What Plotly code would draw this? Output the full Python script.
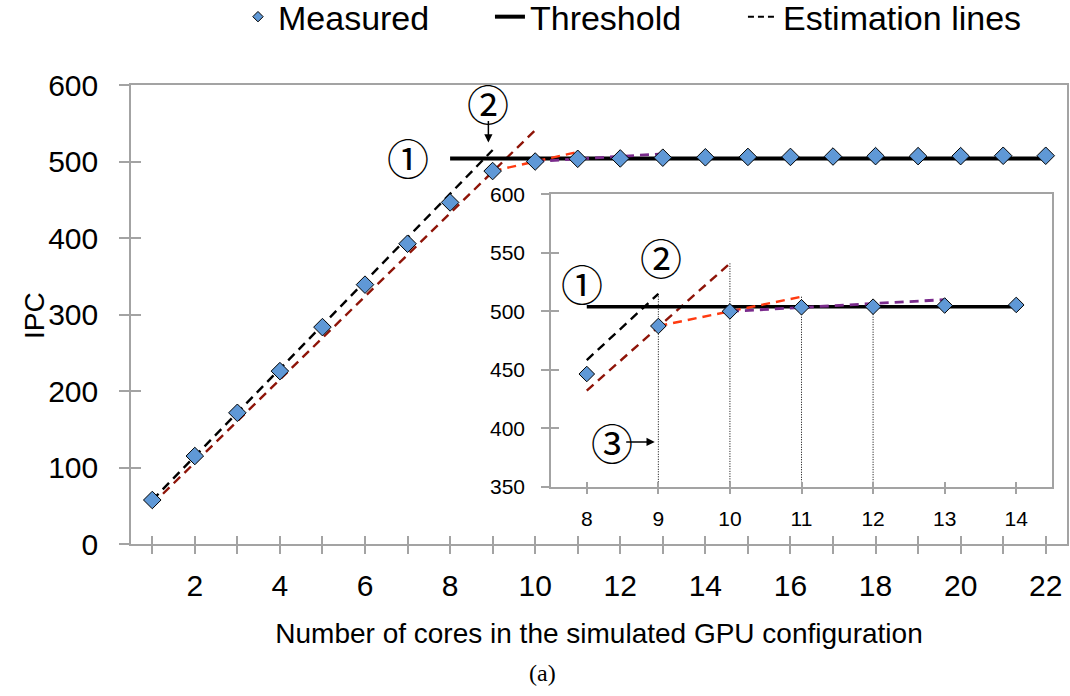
import plotly.graph_objects as go

# ---- data -------------------------------------------------------------
cores = list(range(1, 23))
ipc_measured = [57.5, 115, 171.5, 226, 283.5, 339, 392.5, 446.5, 487.5, 500,
                503.5, 504, 505, 505.5, 506, 506, 506.5, 507, 507, 507, 507.5, 507.5]
x_labels = [str(c) if c % 2 == 0 else "" for c in cores]

threshold_ipc = 504
threshold_cores_main = [8, 22]
threshold_cores_inset = [8, 14]

# estimation lines (main chart)
est_linear_x, est_linear_y = [1, 9], [57.3, 515]
est_fit_x, est_fit_y = [1, 10], [52, 541]
est_step2_x, est_step2_y = [9, 11], [487.5, 512.5]
est_step3_x, est_step3_y = [10, 13], [500, 510]

# estimation lines as drawn inside the zoomed view
inset_linear_x, inset_linear_y = [8, 9], [458.4, 515]
inset_fit_x, inset_fit_y = [8, 10], [432.3, 541]

inset_cores = list(range(8, 15))
inset_labels = [str(c) for c in inset_cores]

# drop lines marking where each estimate ends
drop_x = [9, 10, 11, 12]
drop_top = [est_linear_y[1], est_fit_y[1], est_step2_y[1], ipc_measured[11]]
inset_floor = 350

# ---- styling ----------------------------------------------------------
FONT = "Liberation Sans, Arial, sans-serif"
CIRC_FONT = "Noto Sans CJK JP, DejaVu Sans, sans-serif"
AXIS_GREY = "#A3A3A3"
DIAMOND_FILL = "#5F98D6"
DARK_RED = "#8E1408"
ORANGE_RED = "#FF3A10"
PURPLE = "#7A2B8C"
DASH = "9px,6px"

fig = go.Figure()


def marker_trace(x, y, xa, ya, size):
    return go.Scatter(
        x=x, y=y, xaxis=xa, yaxis=ya, mode="markers", showlegend=False,
        marker=dict(symbol="diamond", size=size, color=DIAMOND_FILL,
                    line=dict(color="black", width=1)),
        hoverinfo="x+y")


def dashed(x, y, xa, ya, color, width=2.4):
    return go.Scatter(x=x, y=y, xaxis=xa, yaxis=ya, mode="lines", showlegend=False,
                      line=dict(color=color, width=width, dash=DASH), hoverinfo="skip")


# main chart
fig.add_trace(dashed(est_linear_x, est_linear_y, "x", "y", "black"))
fig.add_trace(dashed(est_fit_x, est_fit_y, "x", "y", DARK_RED))
fig.add_trace(go.Scatter(x=threshold_cores_main, y=[threshold_ipc] * 2, xaxis="x", yaxis="y",
                         mode="lines", showlegend=False,
                         line=dict(color="black", width=4), hoverinfo="skip"))
fig.add_trace(dashed(est_step2_x, est_step2_y, "x", "y", ORANGE_RED))
fig.add_trace(dashed(est_step3_x, est_step3_y, "x", "y", PURPLE, 2.8))
fig.add_trace(marker_trace(cores, ipc_measured, "x", "y", 13.5))

# zoomed view
for xv, top in zip(drop_x, drop_top):
    fig.add_trace(go.Scatter(x=[xv, xv], y=[top, inset_floor], xaxis="x2", yaxis="y2",
                             mode="lines", showlegend=False, hoverinfo="skip",
                             line=dict(color="black", width=1, dash="1px,1.5px")))
fig.add_trace(dashed(inset_linear_x, inset_linear_y, "x2", "y2", "black"))
fig.add_trace(dashed(inset_fit_x, inset_fit_y, "x2", "y2", DARK_RED))
fig.add_trace(go.Scatter(x=threshold_cores_inset, y=[threshold_ipc] * 2, xaxis="x2", yaxis="y2",
                         mode="lines", showlegend=False,
                         line=dict(color="black", width=3.5), hoverinfo="skip"))
fig.add_trace(dashed(est_step2_x, est_step2_y, "x2", "y2", ORANGE_RED))
fig.add_trace(dashed(est_step3_x, est_step3_y, "x2", "y2", PURPLE, 2.8))
i0 = cores.index(inset_cores[0])
fig.add_trace(marker_trace(inset_cores, ipc_measured[i0:i0 + len(inset_cores)], "x2", "y2", 12))

# legend entries, each in its own legend box so they can be spaced freely
fig.add_trace(go.Scatter(x=[None], y=[None], mode="markers", name="Measured", legend="legend",
                         marker=dict(symbol="diamond", size=8, color=DIAMOND_FILL,
                                     line=dict(color="black", width=1))))
fig.add_trace(go.Scatter(x=[None], y=[None], mode="lines", name="Threshold", legend="legend2",
                         line=dict(color="black", width=4)))
fig.add_trace(go.Scatter(x=[None], y=[None], mode="lines", name="Estimation lines",
                         legend="legend3", line=dict(color="black", width=2, dash="6px,4px")))

# companion axes that carry the inner half of each crossing tick
fig.add_trace(go.Scatter(x=[cores[0]], y=[0], xaxis="x3", yaxis="y3", mode="markers",
                         marker=dict(opacity=0), showlegend=False, hoverinfo="skip"))
fig.add_trace(go.Scatter(x=[inset_cores[0]], y=[inset_floor], xaxis="x4", yaxis="y4",
                         mode="markers", marker=dict(opacity=0), showlegend=False,
                         hoverinfo="skip"))

main_yticks = list(range(0, 601, 100))
inset_yticks = list(range(350, 601, 50))

axis_common = dict(showgrid=False, zeroline=False, linecolor=AXIS_GREY, linewidth=1.5,
                   tickcolor=AXIS_GREY, tickwidth=1.5)


def legend_box(x_left):
    return dict(orientation="h", x=x_left, xanchor="left", y=1.148, yanchor="middle",
                font=dict(size=34, family=FONT), bgcolor="rgba(0,0,0,0)", itemwidth=30)


fig.update_layout(
    width=1070, height=696,
    margin=dict(l=131, r=3, t=85, b=152, autoexpand=False),
    paper_bgcolor="white", plot_bgcolor="white",
    font=dict(family=FONT, color="black"),
    xaxis=dict(domain=[0, 1], range=[0.5, 22.5], tickvals=cores, ticktext=x_labels,
               ticks="outside", ticklen=8, showline=True, mirror=True, anchor="y",
               tickfont=dict(size=30), ticklabelstandoff=6,
               title=dict(text="Number of cores in the simulated GPU configuration",
                          font=dict(size=28), standoff=23),
               **axis_common),
    yaxis=dict(domain=[0, 1], range=[0, 600], tickvals=main_yticks, ticks="outside",
               ticklen=10, showline=True, mirror=True, anchor="x",
               tickfont=dict(size=30), ticklabelstandoff=15, **axis_common),
    xaxis3=dict(overlaying="x", range=[0.5, 22.5], tickvals=cores, ticks="inside", ticklen=8,
                showticklabels=False, showline=False, anchor="y3", **axis_common),
    yaxis3=dict(overlaying="y", range=[0, 600], tickvals=main_yticks, ticks="inside",
                ticklen=10, showticklabels=False, showline=False, anchor="x3", **axis_common),
    xaxis2=dict(domain=[0.4487, 0.984], range=[7.5, 14.5], tickvals=inset_cores,
                ticktext=inset_labels, ticks="outside", ticklen=5, showline=True,
                mirror=True, anchor="y2", tickfont=dict(size=21), ticklabelstandoff=7,
                **axis_common),
    yaxis2=dict(domain=[0.1242, 0.7619], range=[350, 600], tickvals=inset_yticks,
                ticks="outside", ticklen=8, showline=True, mirror=True, anchor="x2",
                tickfont=dict(size=21), ticklabelstandoff=12, **axis_common),
    xaxis4=dict(overlaying="x2", range=[7.5, 14.5], tickvals=inset_cores, ticks="inside",
                ticklen=5, showticklabels=False, showline=False, anchor="y4", **axis_common),
    yaxis4=dict(overlaying="y2", range=[350, 600], tickvals=inset_yticks, ticks="inside",
                ticklen=8, showticklabels=False, showline=False, anchor="x4", **axis_common),
    legend=legend_box(0.1143),
    legend2=legend_box(0.3835),
    legend3=legend_box(0.6538),
    showlegend=True,
)

circ = dict(showarrow=False, font=dict(family=CIRC_FONT, size=42, color="black"))
arrow = dict(text="", showarrow=True, arrowhead=2, arrowsize=1.1, arrowwidth=1.5,
             arrowcolor="black")

fig.add_annotation(x=7.0, y=506.5, xref="x", yref="y", text="①", **circ)
fig.add_annotation(x=8.9, y=577, xref="x", yref="y", text="②", **circ)
fig.add_annotation(x=8.9, y=524.7, xref="x", yref="y", ax=8.9, ay=555,
                   axref="x", ayref="y", **arrow)

fig.add_annotation(x=7.93, y=525, xref="x2", yref="y2", text="①", **circ)
fig.add_annotation(x=9.04, y=546.5, xref="x2", yref="y2", text="②", **circ)
fig.add_annotation(x=8.35, y=388.5, xref="x2", yref="y2", text="③", **circ)
fig.add_annotation(x=8.95, y=388.5, xref="x2", yref="y2", ax=8.53, ay=388.5,
                   axref="x2", ayref="y2", **arrow)

# y-axis title and figure caption
fig.add_annotation(x=-0.1026, y=0.499, xref="paper", yref="paper", text="IPC",
                   textangle=-90, showarrow=False, xanchor="center", yanchor="middle",
                   font=dict(size=28))
fig.add_annotation(x=0.44, y=-0.281, xref="paper", yref="paper", text="(a)",
                   showarrow=False, xanchor="center", yanchor="middle",
                   font=dict(family="Liberation Serif, DejaVu Serif, serif", size=24))

fig.write_html("out.html")
